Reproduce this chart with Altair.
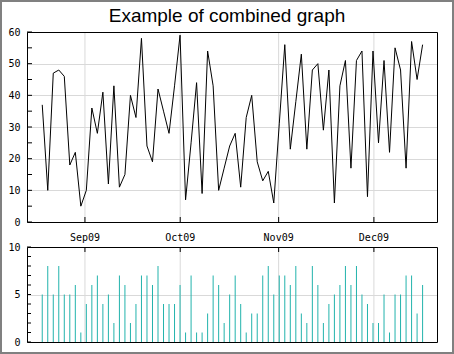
import altair as alt
import pandas as pd

# ---------------- data ----------------
title_text = "Example of combined graph"

line_values = [37, 10, 47, 48, 46, 18, 22, 5, 10, 36,
               28, 41, 12, 43, 11, 15, 40, 33, 58, 24,
               19, 42, 35, 28, 43, 59, 7, 25, 44, 9,
               54, 43, 10, 17, 24, 28, 11, 33, 40, 19,
               13, 16, 6, 31, 56, 23, 38, 53, 23, 48,
               50, 29, 48, 6, 43, 51, 17, 51, 54, 8,
               54, 25, 51, 22, 55, 48, 17, 57, 45, 56]

bar_values = [5, 8, 5, 8, 5, 5, 6, 1, 4, 6,
              7, 4, 5, 2, 7, 6, 2, 4, 7, 7,
              6, 8, 4, 4, 4, 6, 1, 7, 1, 1,
              3, 7, 6, 2, 5, 7, 4, 1, 3, 3,
              7, 8, 5, 7, 7, 6, 8, 3, 2, 8,
              6, 2, 4, 5, 6, 8, 6, 8, 5, 4,
              2, 2, 5, 1, 5, 5, 7, 7, 3, 6]

# one sample every 150000 seconds
dates = pd.date_range("2009-08-18 13:12:00", periods=len(line_values), freq="150000s")
month_starts = ["2009-09-01", "2009-10-01", "2009-11-01", "2009-12-01"]
month_labels = ["Sep09", "Oct09", "Nov09", "Dec09"]
top_ticks = [0, 5, 10, 15, 20, 25, 30, 35, 40, 45, 50, 55, 60]
bot_ticks = [0, 1, 2, 3, 4, 5, 6, 7, 8, 9, 10]

df = pd.DataFrame({"date": dates, "line": line_values, "bar": bar_values})
months = pd.DataFrame({"month": pd.to_datetime(month_starts), "label": month_labels})
ttop = pd.DataFrame({"v": top_ticks})
tbot = pd.DataFrame({"v": bot_ticks})
one = pd.DataFrame({"t": [title_text]})

# ---------------- styles ----------------
GRID = "#d9d9d9"
BAR = "#22b3ac"
FONT = "DejaVu Sans Mono"
W = 410
TOP_H = 190
BOT_Y0 = 215
BOT_Y1 = 310

x_start = alt.DateTime(year=2009, month=8, date=13, hours=18)
x_end = alt.DateTime(year=2009, month=12, date=20, hours=21)
xs = alt.Scale(domain=[x_start, x_end], nice=False)
ys_top = alt.Scale(domain=[0, 60], range=[TOP_H, 0], nice=False, zero=False)
ys_bot = alt.Scale(domain=[0, 10], range=[BOT_Y1, BOT_Y0], nice=False, zero=False)

# vertical month grid lines
vgrid_top = alt.Chart(months).mark_rule(color=GRID, strokeWidth=1).encode(
    x=alt.X("month:T", scale=xs, axis=None), y=alt.value(0), y2=alt.value(TOP_H))
vgrid_bot = alt.Chart(months).mark_rule(color=GRID, strokeWidth=1).encode(
    x=alt.X("month:T", scale=xs, axis=None), y=alt.value(BOT_Y0), y2=alt.value(BOT_Y1))

line = alt.Chart(df).mark_line(color="black", strokeWidth=1).encode(
    x=alt.X("date:T", scale=xs, axis=None),
    y=alt.Y("line:Q", scale=ys_top,
            axis=alt.Axis(orient="left", values=[0, 10, 20, 30, 40, 50, 60], grid=True,
                          gridColor=GRID, domain=False, ticks=False, labelPadding=7,
                          title=None)))

bars = alt.Chart(df).mark_rule(color=BAR, strokeWidth=1).encode(
    x=alt.X("date:T", scale=xs, axis=None),
    y=alt.Y("bar:Q", scale=ys_bot,
            axis=alt.Axis(orient="left", values=[0, 5, 10], grid=True, gridColor=GRID,
                          domain=False, ticks=False, labelPadding=7, title=None)),
    y2=alt.datum(0))

frame_top = alt.Chart(one).mark_rect(fill="transparent", stroke="black", strokeWidth=1).encode(
    x=alt.value(0.5), x2=alt.value(W + 0.5), y=alt.value(0.5), y2=alt.value(TOP_H + 0.5))
frame_bot = alt.Chart(one).mark_rect(fill="transparent", stroke="black", strokeWidth=1).encode(
    x=alt.value(0.5), x2=alt.value(W + 0.5), y=alt.value(BOT_Y0 + 0.5), y2=alt.value(BOT_Y1 + 0.5))

yt_top = alt.Chart(ttop).mark_rule(color="black", strokeWidth=1).encode(
    y=alt.Y("v:Q", scale=ys_top, axis=None), x=alt.value(0), x2=alt.value(5))
yt_bot = alt.Chart(tbot).mark_rule(color="black", strokeWidth=1).encode(
    y=alt.Y("v:Q", scale=ys_bot, axis=None), x=alt.value(0), x2=alt.value(4))

mt_top = alt.Chart(months).mark_rule(color="black", strokeWidth=1).encode(
    x=alt.X("month:T", scale=xs, axis=None), y=alt.value(TOP_H), y2=alt.value(TOP_H - 5))
mt_bot = alt.Chart(months).mark_rule(color="black", strokeWidth=1).encode(
    x=alt.X("month:T", scale=xs, axis=None), y=alt.value(BOT_Y0), y2=alt.value(BOT_Y0 + 5))

month_text = alt.Chart(months).mark_text(font=FONT, fontSize=10, color="black",
                                         align="center", baseline="alphabetic").encode(
    x=alt.X("month:T", scale=xs, axis=None), y=alt.value(208.5), text="label:N")

outer = alt.Chart(one).mark_rect(fill="transparent", stroke="#808080", strokeWidth=2).encode(
    x=alt.value(-26), x2=alt.value(426), y=alt.value(-31), y2=alt.value(321))

title = alt.Chart(one).mark_text(font="Liberation Sans", fontSize=19, color="black",
                                 align="center", baseline="alphabetic").encode(
    text="t:N", x=alt.value(200), y=alt.value(-10.5))

chart = alt.layer(
    vgrid_top, vgrid_bot, bars, line, frame_top, frame_bot,
    yt_top, yt_bot, mt_top, mt_bot, month_text, outer, title
).resolve_scale(y="independent").properties(
    width=W, height=BOT_Y1,
    padding={"left": 27, "top": 32, "right": 17, "bottom": 12},
    autosize=alt.AutoSizeParams(type="none"),
    background="white",
).configure_view(stroke="transparent").configure_axis(
    labelFont=FONT, labelFontSize=10, labelColor="black"
)

chart.save("out.html", embed_options={"renderer": "svg", "actions": False})
